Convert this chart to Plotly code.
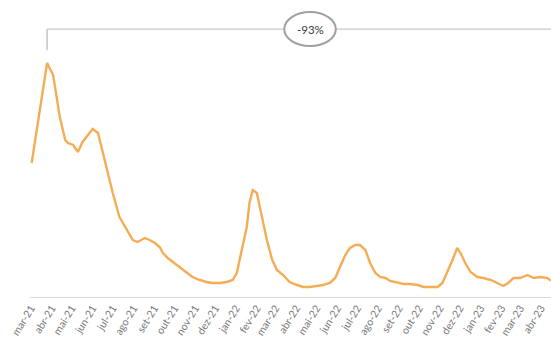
import plotly.graph_objects as go

# Daily-series readings (moving average), arbitrary units
dates = [
    "2021-03-02", "2021-03-25", "2021-04-03", "2021-04-13", "2021-04-21", "2021-04-25",
    "2021-05-03", "2021-05-10", "2021-05-17", "2021-05-25", "2021-06-01", "2021-06-09",
    "2021-06-15", "2021-06-22", "2021-07-01", "2021-07-11", "2021-07-22", "2021-07-31",
    "2021-08-07", "2021-08-18", "2021-08-25", "2021-09-02", "2021-09-09", "2021-09-14",
    "2021-09-21", "2021-09-29", "2021-10-09", "2021-10-19", "2021-10-28", "2021-11-08",
    "2021-11-18", "2021-11-27", "2021-12-08", "2021-12-18", "2021-12-27", "2022-01-02",
    "2022-01-09", "2022-01-17", "2022-01-21", "2022-01-26", "2022-02-01", "2022-02-09",
    "2022-02-16", "2022-02-24", "2022-03-03", "2022-03-12", "2022-03-22", "2022-04-02",
    "2022-04-11", "2022-04-21", "2022-05-02", "2022-05-11", "2022-05-21", "2022-05-29",
    "2022-06-05", "2022-06-13", "2022-06-20", "2022-06-28", "2022-07-05", "2022-07-13",
    "2022-07-20", "2022-07-28", "2022-08-04", "2022-08-12", "2022-08-19", "2022-08-30",
    "2022-09-08", "2022-09-18", "2022-09-29", "2022-10-08", "2022-10-18", "2022-10-29",
    "2022-11-05", "2022-11-12", "2022-11-20", "2022-11-27", "2022-12-02", "2022-12-09",
    "2022-12-17", "2022-12-27", "2023-01-05", "2023-01-16", "2023-01-26", "2023-02-04",
    "2023-02-11", "2023-02-19", "2023-03-01", "2023-03-12", "2023-03-21", "2023-03-31",
    "2023-04-10", "2023-04-16",
]
values = [
    1340, 2340, 2220, 1800, 1570, 1540,
    1520, 1450, 1550, 1620, 1680, 1640,
    1470, 1270, 1040, 800, 670, 570,
    550, 590, 570, 540, 500, 440,
    390, 350, 300, 250, 200, 170,
    150, 140, 140, 150, 170, 240,
    470, 700, 940, 1070, 1040, 800,
    570, 370, 270, 220, 150, 120,
    100, 100, 110, 120, 140, 190,
    300, 420, 490, 520, 520, 470,
    340, 240, 200, 190, 160, 140,
    130, 130, 120, 100, 100, 100,
    140, 240, 370, 490, 440, 340,
    250, 200, 190, 170, 140, 110,
    140, 190, 190, 220, 190, 200,
    190, 164,
]

# Month tick labels (pt-BR)
tick_dates = [
    "2021-03-01", "2021-04-01", "2021-05-01", "2021-06-01", "2021-07-01", "2021-08-01",
    "2021-09-01", "2021-10-01", "2021-11-01", "2021-12-01", "2022-01-01", "2022-02-01",
    "2022-03-01", "2022-04-01", "2022-05-01", "2022-06-01", "2022-07-01", "2022-08-01",
    "2022-09-01", "2022-10-01", "2022-11-01", "2022-12-01", "2023-01-01", "2023-02-01",
    "2023-03-01", "2023-04-01",
]
tick_labels = [
    "mar-21", "abr-21", "mai-21", "jun-21", "jul-21", "ago-21",
    "set-21", "out-21", "nov-21", "dez-21", "jan-22", "fev-22",
    "mar-22", "abr-22", "mai-22", "jun-22", "jul-22", "ago-22",
    "set-22", "out-22", "nov-22", "dez-22", "jan-23", "fev-23",
    "mar-23", "abr-23",
]

peak_val = max(values)
peak_date = dates[values.index(peak_val)]
change_pct = round((values[-1] / peak_val - 1) * 100)
bracket_y = peak_val * 1.145

fig = go.Figure()
fig.add_trace(go.Scatter(
    x=dates, y=values, mode="lines",
    line=dict(color="#F5AD55", width=2.4),
    hoverinfo="skip",
))

# Bracket from the peak to the latest value
fig.add_shape(type="line", xref="x", yref="y",
              x0=peak_date, x1=peak_date, y0=peak_val * 1.055, y1=bracket_y,
              line=dict(color="#BDBDBD", width=1.3))
fig.add_shape(type="line", xref="x", yref="y",
              x0=peak_date, x1="2023-04-20", y0=bracket_y, y1=bracket_y,
              line=dict(color="#C8C8C8", width=1.3))

# Circled percentage label
fig.add_shape(type="circle", xref="paper", yref="y",
              x0=0.488, x1=0.587, y0=bracket_y - 170, y1=bracket_y + 170,
              line=dict(color="#A0A0A0", width=2), fillcolor="white")
fig.add_annotation(xref="paper", yref="y", x=0.5375, y=bracket_y,
                   text=f"{change_pct}%", showarrow=False,
                   font=dict(family="Lato, sans-serif", size=11.5, color="#3A3A3A"))

fig.update_layout(
    width=551, height=342,
    margin=dict(l=30, r=0, t=0, b=45),
    paper_bgcolor="white", plot_bgcolor="white",
    showlegend=False,
    xaxis=dict(
        range=["2021-02-27 12:00", "2023-04-16"],
        tickvals=tick_dates, ticktext=tick_labels,
        tickangle=-58,
        tickfont=dict(family="Lato, sans-serif", size=10.5, color="#7A7A7A"),
        showgrid=False, zeroline=False,
        showline=True, linecolor="#D9D9D9", linewidth=1,
        ticks="", ticklen=3,
    ),
    yaxis=dict(range=[0, 2970], visible=False, showgrid=False, zeroline=False),
)

fig.write_html("out.html")
